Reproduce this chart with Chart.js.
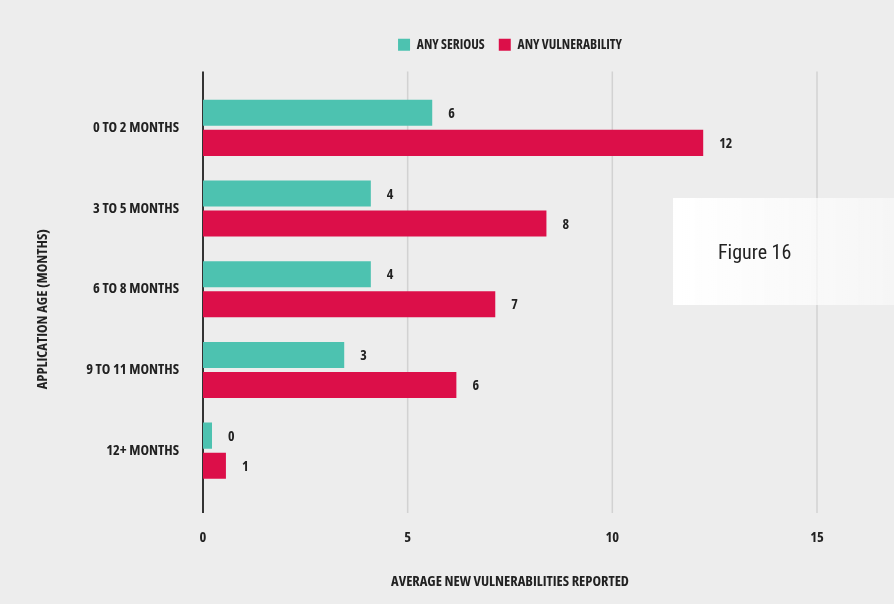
<!DOCTYPE html>
<html>
<head>
<meta charset="utf-8">
<script src="https://cdn.jsdelivr.net/npm/chart.js@4/dist/chart.umd.min.js"></script>
<style>
  html, body { margin: 0; padding: 0; background: #ededed; }
  #wrap { position: relative; width: 894px; height: 604px; }
  #note {
    position: absolute; left: 673px; top: 198px; width: 221px; height: 107px;
    background: linear-gradient(to right, rgba(255,255,255,1) 0%, rgba(255,255,255,0.5) 100%);
    font-family: Roboto, sans-serif; font-stretch: condensed;
    font-size: 20px; color: #222;
    display: flex; align-items: center; padding-left: 45px; box-sizing: border-box;
  }
</style>
</head>
<body>
<div id="wrap">
  <canvas id="chart" width="894" height="604"></canvas>
  <div id="note">Figure 16</div>
</div>
<script>
// DATA
const categories = ['0 TO 2 MONTHS', '3 TO 5 MONTHS', '6 TO 8 MONTHS', '9 TO 11 MONTHS', '12+ MONTHS'];
const anySerious = [5.6, 4.1, 4.1, 3.45, 0.22];
const anyVulnerability = [12.22, 8.39, 7.14, 6.19, 0.56];
const xTicks = [0, 5, 10, 15];

const FAMILY = "'Open Sans', sans-serif";
const WEIGHT = 'condensed bold'; // pulls in Open Sans Condensed Bold
const TEAL = '#4dc2b0';
const RED = '#dc0f49';
const INK = '#222';

// grid lines that run past the category band, plus the dark zero line
const gridPlugin = {
  id: 'longGrid',
  beforeDatasetsDraw(chart) {
    const { ctx, chartArea, scales } = chart;
    const top = chartArea.top - 16, bottom = chartArea.bottom + 22;
    ctx.save();
    scales.x.ticks.forEach(t => {
      const x = scales.x.getPixelForValue(t.value);
      ctx.beginPath();
      ctx.lineWidth = t.value === 0 ? 2 : 1.5;
      ctx.strokeStyle = t.value === 0 ? '#333' : '#d2d2d2';
      ctx.moveTo(x, top);
      ctx.lineTo(x, bottom);
      ctx.stroke();
    });
    ctx.restore();
  }
};

// rounded value next to each bar + the y axis title
const valuePlugin = {
  id: 'values',
  afterDatasetsDraw(chart) {
    const { ctx, chartArea } = chart;
    ctx.save();
    ctx.font = WEIGHT + ' 14px ' + FAMILY;
    ctx.fillStyle = INK;
    ctx.textAlign = 'left';
    ctx.textBaseline = 'middle';
    chart.data.datasets.forEach((ds, i) => {
      chart.getDatasetMeta(i).data.forEach((bar, j) => {
        ctx.fillText(Math.round(ds.data[j]), bar.x + 16, bar.y + 1);
      });
    });
    ctx.font = WEIGHT + ' 14.5px ' + FAMILY;
    ctx.translate(43, (chartArea.top + chartArea.bottom) / 2 + 20);
    ctx.rotate(-Math.PI / 2);
    ctx.textAlign = 'center';
    ctx.fillText('APPLICATION AGE (MONTHS)', 0, 0);
    ctx.restore();
  }
};

// extra room under the legend
const legendGap = {
  id: 'legendGap',
  beforeInit(chart) {
    const fit = chart.legend.fit;
    chart.legend.fit = function () {
      fit.bind(chart.legend)();
      this.height += 26;
    };
  }
};

const font = { family: FAMILY, size: 14.5, weight: WEIGHT };

new Chart(document.getElementById('chart'), {
  type: 'bar',
  data: {
    labels: categories,
    datasets: [
      { label: 'ANY SERIOUS', data: anySerious, backgroundColor: TEAL },
      { label: 'ANY VULNERABILITY', data: anyVulnerability, backgroundColor: RED }
    ]
  },
  options: {
    indexAxis: 'y',
    responsive: false,
    animation: false,
    categoryPercentage: 0.745,
    barPercentage: 0.867,
    layout: { padding: { top: 24, right: 77, bottom: 0, left: 0 } },
    plugins: {
      legend: {
        fullSize: false,
        labels: {
          font: { family: FAMILY, size: 13.5, weight: WEIGHT },
          color: INK, boxWidth: 12, boxHeight: 12, padding: 14
        }
      },
      tooltip: { enabled: false }
    },
    scales: {
      x: {
        min: 0,
        max: 15,
        afterBuildTicks: s => { s.ticks = xTicks.map(v => ({ value: v })); },
        afterFit: s => { s.height = 113; },
        grid: { display: false },
        border: { display: false },
        ticks: { font, color: INK, padding: 30 },
        title: {
          display: true,
          text: 'AVERAGE NEW VULNERABILITIES REPORTED',
          font, color: INK,
          padding: { top: 0, bottom: 13 }
        }
      },
      y: {
        afterFit: s => { s.width = 203; },
        grid: { display: false },
        border: { display: false },
        ticks: { font, color: INK, padding: 16 }
      }
    }
  },
  plugins: [gridPlugin, valuePlugin, legendGap]
});
</script>
</body>
</html>
